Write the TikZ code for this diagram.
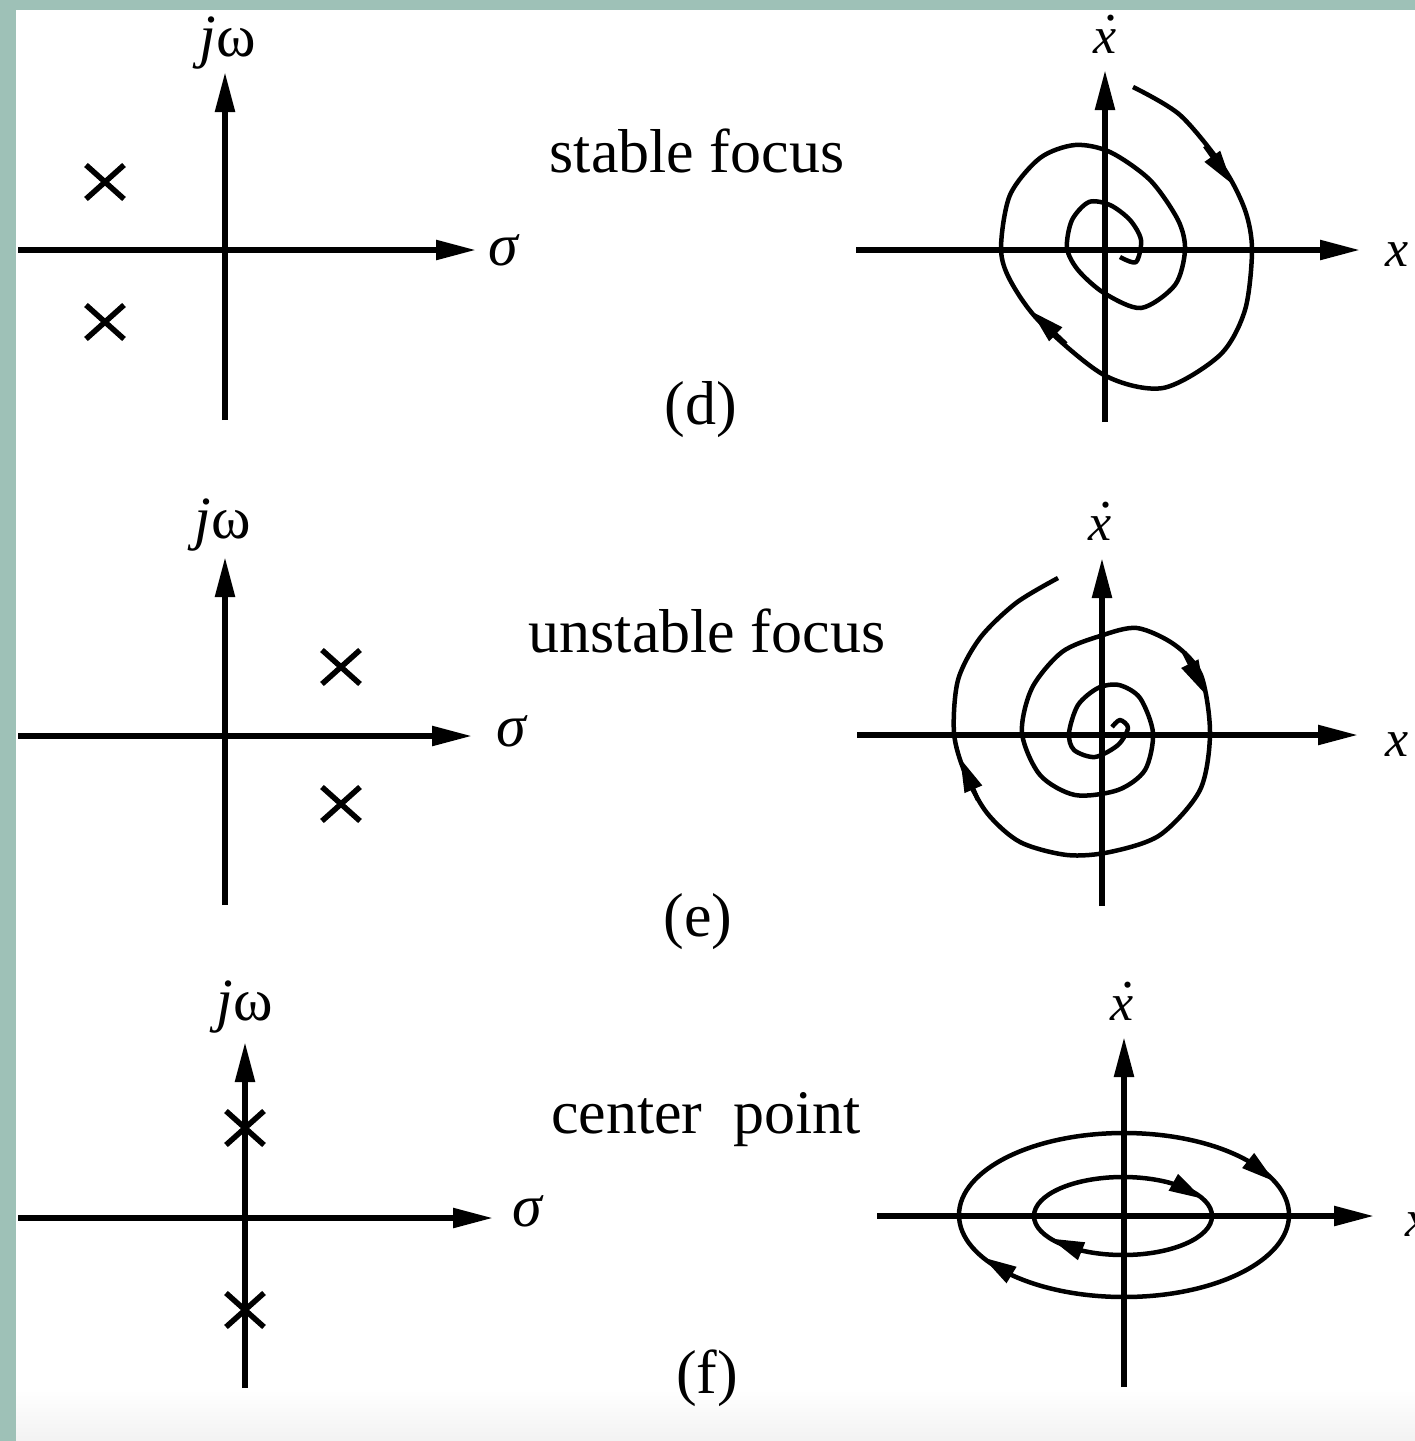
\documentclass[tikz,border=0pt]{standalone}
\usepackage{fontspec}
\setmainfont{Liberation Serif}
\usetikzlibrary{arrows.meta}
\definecolor{FrameGreen}{HTML}{9EC1B7}
\definecolor{PageFoot}{HTML}{F2F2F2}
\newcommand{\xdotlabel}{\rlap{\hspace{0.22em}\raisebox{0.62em}{.}}\textit{x}}
\tikzset{
  axisline/.style={line width=5.5pt,-{Triangle[length=40pt,width=19pt]}},
  trajectory/.style={line width=4.5pt,line join=round},
  flowtip/.style={line width=4.5pt,-{Triangle[length=34pt,width=18pt]}},
  polemark/.style={line width=5.5pt},
  casetext/.style={font=\fontsize{62}{70}\selectfont,inner sep=0pt,anchor=base},
  varlabel/.style={font=\fontsize{60}{70}\selectfont,inner sep=0pt,anchor=base},
  statelabel/.style={font=\fontsize{52}{60}\selectfont,inner sep=0pt,anchor=base}
}

\begin{document}
\begin{tikzpicture}[x=1pt,y=-1pt]
  \useasboundingbox (0,0) rectangle (1415,1441);
  % Slide frame and page.
  \fill[FrameGreen] (0,0) rectangle (1415,1441);
  \fill[white] (16,10) rectangle (1415,1441);
  \shade[top color=white,bottom color=PageFoot] (16,1390) rectangle (1415,1441);

  % (d) stable focus.
  \draw[axisline] (18,250) -- (476,250);
  \draw[axisline] (225,420) -- (225,72);
  \node[varlabel] (sigD) at (504,265) {\textit{σ}};
  \node[varlabel] (jwD) at (228,56) {\textit{j}ω};
  \draw[axisline] (856,250) -- (1360,250);
  \draw[axisline] (1105,422) -- (1105,70);
  \node[statelabel] (xD) at (1397,266) {\textit{x}};
  \node[statelabel] (xdotD) at (1105,53) {\xdotlabel};
  \node[casetext] (nameD) at (697,172) {stable focus};
  \node[casetext] (captD) at (701,424) {(d)};
  \draw[trajectory] plot[smooth] coordinates {
    (1133,87) (1180,115) (1223,167) (1245,210) (1252,250) (1245,310)
    (1220,355) (1163,388) (1104,375) (1040,322) (1010,280) (1001,248)
    (1010,195) (1040,158) (1075,145) (1110,152) (1150,180) (1178,220)
    (1185,250) (1175,285) (1141,308) (1104,293) (1078,270) (1067,248)
    (1072,220) (1089,202) (1110,205) (1130,220) (1141,240) (1136,262)
    (1120,257)};
  \draw[flowtip] (1205,146) -- (1232,184);
  \draw[flowtip] (1066,344) -- (1031,311);

  % (e) unstable focus.
  \draw[axisline] (18,736) -- (472,736);
  \draw[axisline] (225,905) -- (225,557);
  \node[varlabel] (sigE) at (512,746) {\textit{σ}};
  \node[varlabel] (jwE) at (223,538) {\textit{j}ω};
  \draw[axisline] (857,735) -- (1358,735);
  \draw[axisline] (1102,906) -- (1102,558);
  \node[statelabel] (xE) at (1397,756) {\textit{x}};
  \node[statelabel] (xdotE) at (1100,540) {\xdotlabel};
  \node[casetext] (nameE) at (707,652) {unstable focus};
  \node[casetext] (captE) at (698,936) {(e)};
  \draw[trajectory] plot[smooth] coordinates {
    (1112,727) (1120,720) (1128,728) (1118,745) (1095,757) (1074,750)
    (1069,733) (1078,705) (1098,688) (1119,685) (1140,698) (1153,733)
    (1145,770) (1118,790) (1075,795) (1040,775) (1022,733) (1032,688)
    (1062,652) (1100,636) (1137,628) (1175,645) (1201,675) (1210,733)
    (1200,790) (1160,835) (1110,852) (1067,855) (1020,842) (987,813)
    (965,773) (954,733) (958,680) (980,638) (1016,603) (1058,578)};
  \draw[flowtip] (1184,652) -- (1205,694);
  \draw[flowtip] (978,800) -- (960,758);

  % (f) center point.
  \draw[axisline] (18,1218) -- (493,1218);
  \draw[axisline] (245,1388) -- (245,1042);
  \node[varlabel] (sigF) at (528,1226) {\textit{σ}};
  \node[varlabel] (jwF) at (245,1020) {\textit{j}ω};
  \draw[axisline] (877,1216) -- (1374,1216);
  \draw[axisline] (1124,1387) -- (1124,1037);
  \node[statelabel] (xF) at (1417,1236) {\textit{x}};
  \node[statelabel] (xdotF) at (1122,1020) {\xdotlabel};
  \node[casetext] (nameF) at (706,1133) {center~ point};
  \node[casetext] (captF) at (707,1393) {(f)};
  \draw[trajectory] (1124,1215) ellipse (165 and 82);
  \draw[trajectory] (1123,1216) ellipse (89 and 39);
  \foreach \cx/\cy/\a/\b/\t/\d in {1124/1215/165/82/-24/16,1124/1215/165/82/149/16,
                                    1123/1216/89/39/-26/24,1123/1216/89/39/145/24}
    \draw[flowtip] ({\cx+\a*cos(\t-\d)},{\cy+\b*sin(\t-\d)}) -- ({\cx+\a*cos(\t)},{\cy+\b*sin(\t)});

  % Poles of the three cases.
  \foreach \x/\y in {105/182,105/322,341/667,341/804,245/1128,245/1310}
    \draw[polemark] (\x-19,\y-17) -- (\x+19,\y+17) (\x-19,\y+17) -- (\x+19,\y-17);
\end{tikzpicture}
\end{document}
